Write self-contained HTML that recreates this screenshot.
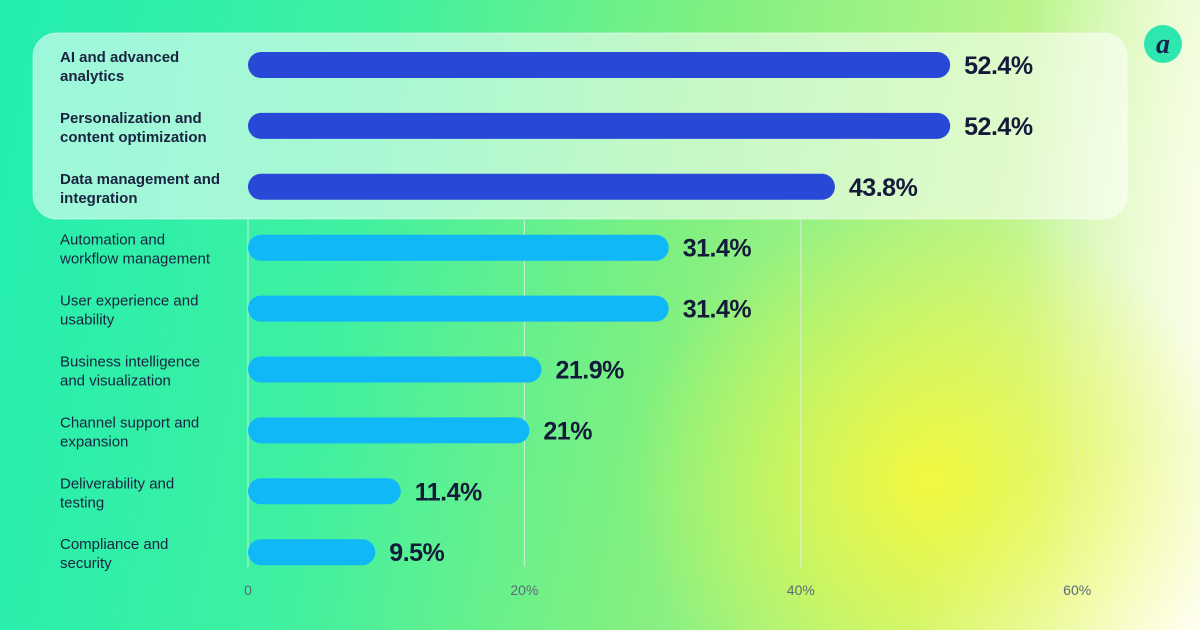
<!DOCTYPE html>
<html><head><meta charset="utf-8"><style>
html,body{margin:0;padding:0}
body{width:1200px;height:630px;overflow:hidden;position:relative;font-family:"Liberation Sans",sans-serif;
background:
radial-gradient(ellipse 300px 280px at 930px 480px,rgba(245,248,60,0.95),rgba(245,248,60,0) 100%),
radial-gradient(ellipse 220px 700px at 1240px 250px,rgba(255,255,240,1),rgba(255,255,240,0) 100%),
radial-gradient(ellipse 300px 200px at 1200px 640px,rgba(255,255,235,1),rgba(255,255,235,0) 100%),
linear-gradient(100deg,#22eeb0 0%,#40f0a0 30%,#80f080 55%,#b8f488 78%,#eefbd8 100%);}
svg{position:absolute;left:0;top:0}
</style></head><body>
<svg width="1200" height="630">
<rect x="33" y="33" width="1094" height="186" rx="24" fill="rgba(255,255,255,0.55)" stroke="rgba(255,255,255,0.5)"/>
<g id="grid"></g><g id="bars"></g><g id="labels"></g>
<g>
<circle cx="1163" cy="44" r="19" fill="#2ee6b0"/>
<text x="1163" y="53" text-anchor="middle" font-size="28" font-weight="bold" font-style="italic" fill="#1c1f4a" font-family="Liberation Serif,serif">a</text>
</g>
</svg>
<script>
const categories=[["AI and advanced","analytics"],["Personalization and","content optimization"],["Data management and","integration"],["Automation and","workflow management"],["User experience and","usability"],["Business intelligence","and visualization"],["Channel support and","expansion"],["Deliverability and","testing"],["Compliance and","security"]];
const values=[52.4,52.4,43.8,31.4,31.4,21.9,21,11.4,9.5];
const valueLabels=["52.4%","52.4%","43.8%","31.4%","31.4%","21.9%","21%","11.4%","9.5%"];
const ticks=[0,20,40,60];
const tickLabels=["0","20%","40%","60%"];
const NS="http://www.w3.org/2000/svg";
const x=v=>248+v*13.4;
const gx=v=>248+v*13.82;
const y=i=>65+i*60.9;
function mk(t,a,p){const e=document.createElementNS(NS,t);for(const k in a)e.setAttribute(k,a[k]);p.appendChild(e);return e;}
const G=document.getElementById('grid'),B=document.getElementById('bars'),L=document.getElementById('labels');
ticks.forEach((t,i)=>{
 if(i>0){const l=mk('line',{x1:gx(t),x2:gx(t),y1:220,y2:567,stroke:'rgba(230,235,235,0.7)','stroke-width':1.2},G);
 
 }
 const tx=mk('text',{x:gx(t),y:595,'text-anchor':'middle','font-size':14,fill:'#5a6a7a'},G);
 tx.textContent=tickLabels[i];
 
 
});
mk('line',{x1:248,x2:248,y1:220,y2:567,stroke:'rgba(230,235,235,0.7)','stroke-width':1.2},G);
values.forEach((v,i)=>{
 const hi=i<3;
 const r=mk('rect',{x:x(0),y:y(i)-13,width:x(v)-x(0),height:26,rx:13,fill:hi?'#2848d8':'#10b8f8'},B);
 
 
 const vt=mk('text',{x:x(v)+14,y:y(i)+9,'font-size':25,'font-weight':'bold',fill:'#141a3a','letter-spacing':'-0.5'},L);
 vt.textContent=valueLabels[i];
 
 
 const ct=mk('text',{x:60,y:y(i)-3,'font-size':15,'font-weight':hi?'bold':'normal',fill:'#1a2340'},L);
 
 
 categories[i].forEach((s,j)=>{const ts=mk('tspan',{x:60,dy:j?19:0},ct);ts.textContent=s;});
});
</script>
</body></html>
